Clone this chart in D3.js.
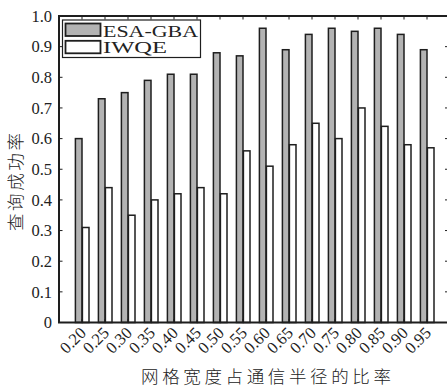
<!DOCTYPE html>
<html><head><meta charset="utf-8">
<script src="https://cdn.jsdelivr.net/npm/d3@7"></script>
<style>body{margin:0;background:#fff}svg{display:block}</style>
</head><body>
<script>
const categories = ["0.20","0.25","0.30","0.35","0.40","0.45","0.50","0.55","0.60","0.65","0.70","0.75","0.80","0.85","0.90","0.95"];
const esaGba = [0.60,0.73,0.75,0.79,0.81,0.81,0.88,0.87,0.96,0.89,0.94,0.96,0.95,0.96,0.94,0.89];
const iwqe   = [0.31,0.44,0.35,0.40,0.42,0.44,0.42,0.56,0.51,0.58,0.65,0.60,0.70,0.64,0.58,0.57];
const yTicks = [0,0.1,0.2,0.3,0.4,0.5,0.6,0.7,0.8,0.9,1.0];
const seriesNames = ["ESA-GBA","IWQE"];

const W=447,H=387;
const L=59,R=450,T=16,B=322.5;
const serif = "'Liberation Serif','DejaVu Serif',serif";
const cjk = "'Noto Sans CJK SC',sans-serif";
const dark="#1e1e1e";
const svg=d3.select("body").append("svg").attr("width",W).attr("height",H);

const x=d3.scalePoint().domain(categories).range([82,427]);
const y=d3.scaleLinear().domain([0,1]).range([B,T]);
const bw=6.6;

// bars
const g=svg.append("g");
g.selectAll("rect.esa").data(esaGba).join("rect").attr("class","esa")
 .attr("x",(d,i)=>x(categories[i])-bw).attr("y",d=>y(d))
 .attr("width",bw).attr("height",d=>B-y(d))
 .attr("fill","#b3b3b3").attr("stroke",dark).attr("stroke-width",1.5);
g.selectAll("rect.iw").data(iwqe).join("rect").attr("class","iw")
 .attr("x",(d,i)=>x(categories[i])+0.4).attr("y",d=>y(d))
 .attr("width",bw).attr("height",d=>B-y(d))
 .attr("fill","#fff").attr("stroke",dark).attr("stroke-width",1.5);

// frame
svg.append("path").attr("d",`M${R},${T}H${L}V${B}H${R}`).attr("fill","none").attr("stroke",dark).attr("stroke-width",2);
svg.append("line").attr("x1",R).attr("x2",R).attr("y1",T).attr("y2",B).attr("stroke",dark).attr("stroke-width",2);

// ticks
const tk=svg.append("g").attr("stroke",dark).attr("stroke-width",1);
yTicks.forEach(v=>{
  tk.append("line").attr("x1",L).attr("x2",L+3.5).attr("y1",y(v)).attr("y2",y(v));
  tk.append("line").attr("x1",R-5).attr("x2",R).attr("y1",y(v)).attr("y2",y(v));
});
categories.forEach(c=>{
  tk.append("line").attr("x1",x(c)).attr("x2",x(c)).attr("y1",T).attr("y2",T+3.5);
  tk.append("line").attr("x1",x(c)).attr("x2",x(c)).attr("y1",B).attr("y2",B-3.5);
});

// y labels
svg.append("g").selectAll("text").data(yTicks).join("text")
 .attr("x",52).attr("y",d=>y(d)).attr("dy","0.35em").attr("text-anchor","end")
 .attr("font-family",serif).attr("font-size",16.5).attr("fill","#222")
 .text(d=>d===0?"0":d.toFixed(1));

// x labels
svg.append("g").selectAll("text").data(categories).join("text")
 .attr("transform",c=>`translate(${x(c)+5},${334}) rotate(-45)`)
 .attr("text-anchor","end")
 .attr("font-family",serif).attr("font-size",16.5).attr("fill","#222")
 .text(c=>c);

// axis titles
svg.append("text").attr("x",141).attr("y",383).attr("textLength",250).attr("lengthAdjust","spacing")
 .attr("font-family",cjk).attr("font-weight",300).attr("font-size",17.5).attr("fill","#222")
 .text("网格宽度占通信半径的比率");
svg.append("text").attr("transform","translate(22,182) rotate(-90)").attr("text-anchor","middle")
 .attr("font-family",cjk).attr("font-weight",300).attr("font-size",17.5).attr("fill","#222")
 .attr("textLength",98).attr("lengthAdjust","spacing")
 .text("查询成功率");

// legend
const lg=svg.append("g");
lg.append("rect").attr("x",62.5).attr("y",20).attr("width",138).attr("height",37.5)
 .attr("fill","#fff").attr("stroke",dark).attr("stroke-width",1.2);
const fills=["#b3b3b3","#fff"];
seriesNames.forEach((n,i)=>{
  lg.append("rect").attr("x",65.5).attr("y",23.5+i*17.3).attr("width",35).attr("height",12.5)
   .attr("fill",fills[i]).attr("stroke",dark).attr("stroke-width",1.8);
  lg.append("text").attr("x",103).attr("y",36.5+i*16.8).attr("font-family",serif).attr("font-size",16)
   .attr("fill","#222").attr("textLength",i===0?95:64).attr("lengthAdjust","spacingAndGlyphs").text(n);
});
</script>
</body></html>
